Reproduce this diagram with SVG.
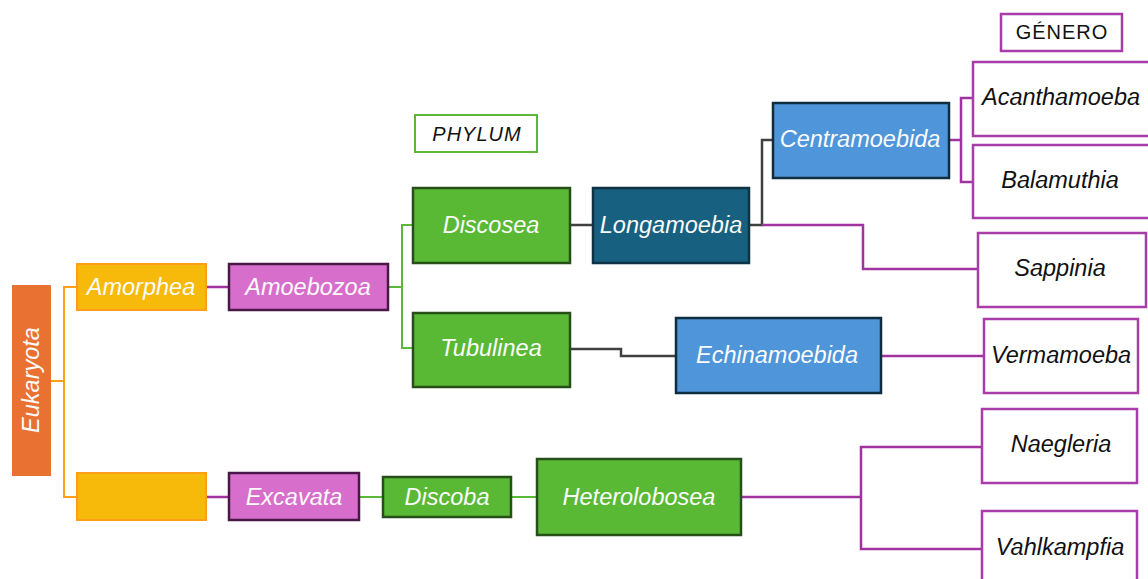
<svg xmlns="http://www.w3.org/2000/svg" width="1148" height="579" viewBox="0 0 1148 579">
<style>
text{font-family:"Liberation Sans",Arial,sans-serif;font-size:23.5px;font-style:italic;text-anchor:middle}
.w{fill:#fbfbfb}
.k{fill:#111}
.hd{font-size:20px;letter-spacing:1px}
.euk{fill:#E97132}
.ora{fill:#F7B90A;stroke:#FF9E1B;stroke-width:2}
.pur{fill:#D86ECC;stroke:#4A1848;stroke-width:2.5}
.grn{fill:#59B935;stroke:#274F1A;stroke-width:2.5}
.dbl{fill:#17607F;stroke:#0F3345;stroke-width:2.5}
.blu{fill:#4F95D9;stroke:#0E2E40;stroke-width:2.5}
.gen{fill:#fff;stroke:#A83CA8;stroke-width:2.5}
.phy{fill:#fff;stroke:#5DB53A;stroke-width:2}
.c{fill:none}
.co{stroke:#FF9E1B;stroke-width:2}
.cp{stroke:#A033A0;stroke-width:2.5}
.cg{stroke:#5AB939;stroke-width:2}
.ck{stroke:#404040;stroke-width:2.5}
</style>
<g id="connectors" class="c">
<path class="c co" d="M51 381 H64 M77 287 H64 V497 H77"/>
<path class="c cp" d="M206 287 H229 M206 497 H229"/>
<path class="c cg" d="M388 287 H402 M413 225 H402 V348 H413 M359 497 H383 M511 497 H537"/>
<path class="c ck" d="M570 225 H593 M749 225 H762 V140 H773 M570 349 H621 V356 H676"/>
<path class="c cp" d="M762 225 H863 V269 H978 M949 140 H961 M973 98 H961 V182 H973 M881 356 H984 M741 497 H861 M982 447 H861 V549 H982"/>
</g>
<g id="eukaryota"><rect class="euk" x="12" y="285" width="39" height="191"/><text class="w" x="31" y="388" transform="rotate(-90 31 380)">Eukaryota</text></g>
<g id="amorphea"><rect class="ora" x="77" y="264" width="129" height="46"/><text class="w" x="141" y="295">Amorphea</text></g>
<g id="amoebozoa"><rect class="pur" x="229" y="264" width="159" height="46"/><text class="w" x="308" y="295">Amoebozoa</text></g>
<g id="orange-empty"><rect class="ora" x="77" y="473" width="129" height="47"/></g>
<g id="excavata"><rect class="pur" x="229" y="473" width="130" height="47"/><text class="w" x="294" y="505">Excavata</text></g>
<g id="discoba"><rect class="grn" x="383" y="477" width="128" height="40"/><text class="w" x="447" y="505">Discoba</text></g>
<g id="heterolobosea"><rect class="grn" x="537" y="459" width="204" height="76"/><text class="w" x="639" y="505">Heterolobosea</text></g>
<g id="phylum"><rect class="phy" x="415" y="115" width="122" height="37"/><text class="k hd" x="477" y="141">PHYLUM</text></g>
<g id="discosea"><rect class="grn" x="413" y="188" width="157" height="75"/><text class="w" x="491" y="233">Discosea</text></g>
<g id="tubulinea"><rect class="grn" x="413" y="313" width="157" height="74"/><text class="w" x="491" y="356">Tubulinea</text></g>
<g id="longamoebia"><rect class="dbl" x="593" y="188" width="156" height="75"/><text class="w" x="671" y="233">Longamoebia</text></g>
<g id="centramoebida"><rect class="blu" x="773" y="103" width="176" height="75"/><text class="w" x="860" y="147">Centramoebida</text></g>
<g id="echinamoebida"><rect class="blu" x="676" y="318" width="205" height="75"/><text class="w" x="777" y="363">Echinamoebida</text></g>
<g id="genero"><rect class="gen" x="1001" y="14" width="121" height="37"/><text class="k hd" x="1062" y="39" style="font-style:normal">GÉNERO</text></g>
<g id="acanthamoeba"><rect class="gen" x="973" y="62" width="180" height="74"/><text class="k" x="1061" y="105">Acanthamoeba</text></g>
<g id="balamuthia"><rect class="gen" x="973" y="145" width="180" height="73"/><text class="k" x="1060" y="188">Balamuthia</text></g>
<g id="sappinia"><rect class="gen" x="978" y="233" width="168" height="74"/><text class="k" x="1060" y="276">Sappinia</text></g>
<g id="vermamoeba"><rect class="gen" x="984" y="319" width="154" height="74"/><text class="k" x="1061" y="363">Vermamoeba</text></g>
<g id="naegleria"><rect class="gen" x="982" y="409" width="155" height="74"/><text class="k" x="1061" y="452">Naegleria</text></g>
<g id="vahlkampfia"><rect class="gen" x="982" y="511" width="155" height="76"/><text class="k" x="1060" y="555">Vahlkampfia</text></g>
</svg>
